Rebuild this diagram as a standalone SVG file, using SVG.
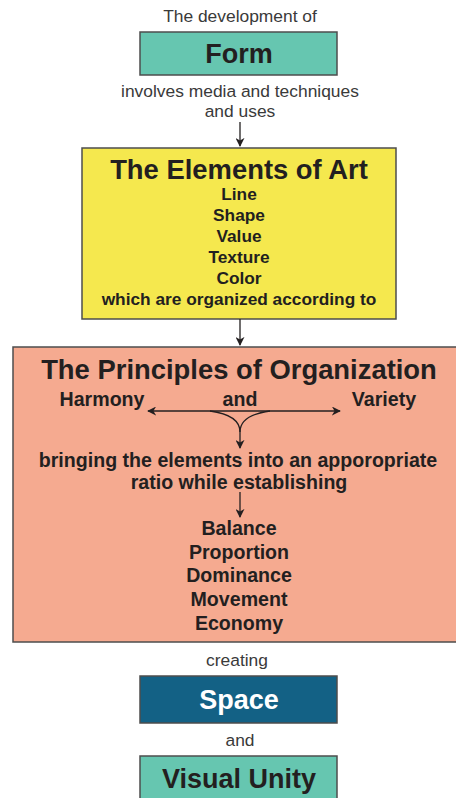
<svg xmlns="http://www.w3.org/2000/svg" width="456" height="798" viewBox="0 0 456 798">
  <defs>
    <style>
      text { font-family: "Liberation Sans", Arial, sans-serif; text-anchor: middle; fill: #231f20; }
      .cap { font-size: 17.4px; fill: #3a3a3a; }
      .title { font-size: 27px; font-weight: bold; }
      .head { font-size: 27.4px; font-weight: bold; }
      .item { font-size: 17.3px; font-weight: bold; }
      .item2 { font-size: 19.6px; font-weight: bold; }
      .box { stroke: #4d4d4d; stroke-width: 1.5; }
      .conn { stroke: #231f20; stroke-width: 1.3; fill: none; }
    </style>
    <marker id="arr" viewBox="0 0 10 10" refX="9" refY="5" markerWidth="9" markerHeight="9" orient="auto-start-reverse" markerUnits="userSpaceOnUse">
      <path d="M0,0 L10,5 L0,10 L3,5 Z" fill="#231f20"/>
    </marker>
  </defs>

  <text class="cap" x="240" y="22">The development of</text>

  <g id="form">
    <rect class="box" x="140" y="32" width="197" height="43" fill="#66c6b0"/>
    <text class="title" x="239" y="63">Form</text>
  </g>

  <text class="cap" x="240" y="97">involves media and techniques</text>
  <text class="cap" x="240" y="117">and uses</text>

  <g id="elements">
    <rect class="box" x="82" y="148" width="314" height="171" fill="#f5e84e"/>
    <text class="head" x="239" y="179">The Elements of Art</text>
    <text class="item" x="239" y="200">Line</text>
    <text class="item" x="239" y="221">Shape</text>
    <text class="item" x="239" y="242">Value</text>
    <text class="item" x="239" y="263">Texture</text>
    <text class="item" x="239" y="284">Color</text>
    <text class="item" x="239" y="305">which are organized according to</text>
  </g>

  <g id="principles">
    <rect class="box" x="13" y="347" width="446" height="295" fill="#f5aa90"/>
    <text class="head" x="239" y="379">The Principles of Organization</text>
    <text class="item2" x="102" y="406">Harmony</text>
    <text class="item2" x="240" y="406">and</text>
    <text class="item2" x="384" y="406">Variety</text>
    <text class="item2" x="238" y="467">bringing the elements into an apporopriate</text>
    <text class="item2" x="239" y="489">ratio while establishing</text>
    <text class="item2" x="239" y="535">Balance</text>
    <text class="item2" x="239" y="559">Proportion</text>
    <text class="item2" x="239" y="582">Dominance</text>
    <text class="item2" x="239" y="606">Movement</text>
    <text class="item2" x="239" y="630">Economy</text>
  </g>

  <text class="cap" x="237" y="666">creating</text>

  <g id="space">
    <rect class="box" x="140" y="676" width="197" height="47" fill="#136185"/>
    <text class="title" x="239" y="709" style="fill:#ffffff">Space</text>
  </g>

  <text class="cap" x="240" y="746">and</text>

  <g id="visual-unity">
    <rect class="box" x="140" y="756" width="197" height="50" fill="#66c6b0"/>
    <text class="title" x="239" y="788">Visual Unity</text>
  </g>

  <g id="connectors">
    <line class="conn" x1="240" y1="122" x2="240" y2="146" marker-end="url(#arr)"/>
    <line class="conn" x1="240" y1="319" x2="240" y2="345" marker-end="url(#arr)"/>
    <line class="conn" x1="148" y1="411" x2="340" y2="411" marker-start="url(#arr)" marker-end="url(#arr)"/>
    <path class="conn" d="M210,411 C232,414 240,422 240,432"/>
    <path class="conn" d="M270,411 C248,414 240,422 240,432 L240,448" marker-end="url(#arr)"/>
    <line class="conn" x1="240" y1="492" x2="240" y2="517" marker-end="url(#arr)"/>
  </g>
</svg>
